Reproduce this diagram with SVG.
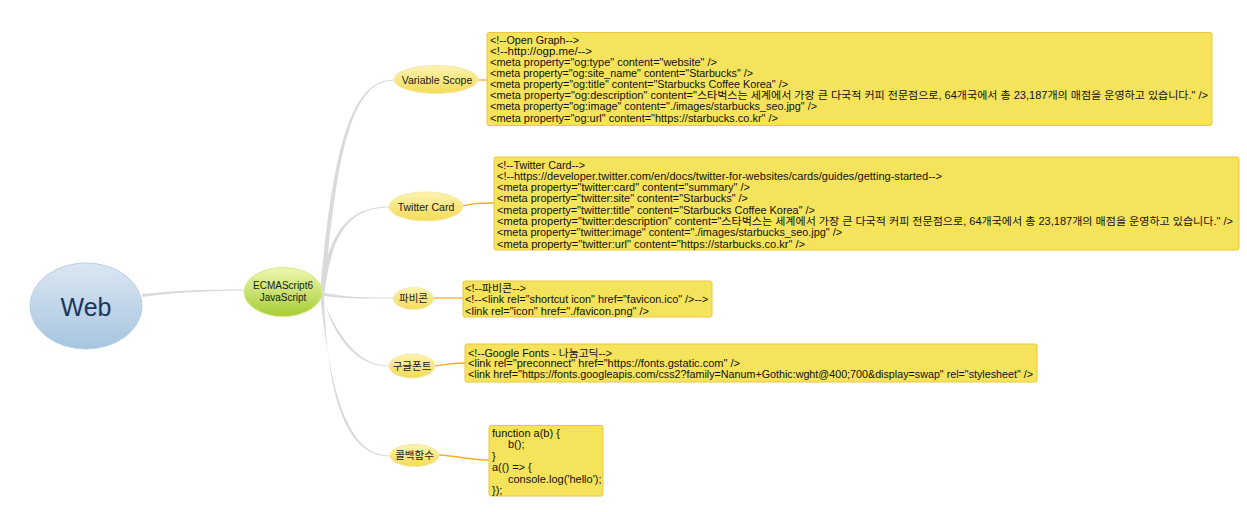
<svg xmlns="http://www.w3.org/2000/svg" width="1247" height="512" viewBox="0 0 1247 512">
<defs>
<linearGradient id="gWeb" x1="0" y1="0" x2="0" y2="1"><stop offset="0" stop-color="#dbe7f2"/><stop offset="1" stop-color="#a7c4df"/></linearGradient>
<linearGradient id="gEcma" x1="0" y1="0" x2="0" y2="1"><stop offset="0" stop-color="#eef6b0"/><stop offset="1" stop-color="#a6cd35"/></linearGradient>
<linearGradient id="gTopic" x1="0" y1="0" x2="0" y2="1"><stop offset="0" stop-color="#fcf3b0"/><stop offset="1" stop-color="#f3db57"/></linearGradient>
</defs>
<style>
.topic{fill:url(#gTopic);stroke:#f6e9a8;stroke-width:1}
.tl{font-family:"Liberation Sans","Noto Sans CJK KR",sans-serif;font-size:10.5px;fill:#1a1a1a;text-anchor:middle}
.box{fill:#f5e35b;stroke:#eac840;stroke-width:1}
.bt{font-family:"Liberation Sans","Noto Sans CJK KR",sans-serif;font-size:10px;fill:#111}
.code{font-family:"Liberation Sans","Noto Sans CJK KR",sans-serif;font-size:11px;fill:#111}
.gc{fill:#dadada;stroke:none}
.oc{fill:none;stroke:#f0b21e;stroke-width:1.3}
</style>
<g id="connectors">
<path class="gc" d="M142,294 C180,290 210,289.5 244,289.5 L244,290.8 C210,290.8 180,292 142,297 Z"/>
<path class="gc" d="M320,292 C333,150 350,79.5 394,79.5 L394,80.5 C352,80.5 337,150 324.5,292 Z"/>
<path class="gc" d="M320,292 C327,245 340,206.5 389,206.5 L389,207.5 C342,207.5 331,245 324.5,293 Z"/>
<path class="gc" d="M320,292 C345,297 360,297.5 394,297.5 L394,298.5 C360,298.5 345,299 320,295.5 Z"/>
<path class="gc" d="M320,293 C335,330 355,365.5 389,365.5 L389,366.5 C353,366.5 331,331 322.5,295.5 Z"/>
<path class="gc" d="M320,294 C331,400 350,455.5 390,455.5 L390,456.5 C347,456.5 327,400 324,296 Z"/>
<path class="oc" d="M478,80 L487,80"/>
<path class="oc" d="M462,206 C475,203 480,203 494,203"/>
<path class="oc" d="M433,298 L463,298"/>
<path class="oc" d="M435,366 C448,364 452,363 465,363"/>
<path class="oc" d="M438,455 C460,456 470,460 489,460" style="stroke-width:1.6"/>
</g>
<g id="web">
<ellipse cx="86" cy="306" rx="56" ry="43" fill="url(#gWeb)" stroke="#b9d0e6" stroke-width="1"/>
<text x="86" y="316" style="font-family:'Liberation Sans','Noto Sans',sans-serif;font-size:25px;fill:#17375e;text-anchor:middle">Web</text>
</g>
<g id="ecma">
<ellipse cx="283" cy="292" rx="39" ry="24.5" fill="url(#gEcma)" stroke="#d8ea8a" stroke-width="1"/>
<text class="tl" x="283" y="288.5" style="font-size:10px">ECMAScript6</text>
<text class="tl" x="283" y="300.5" style="font-size:10px">JavaScript</text>
</g>
<g id="variable-scope">
<ellipse class="topic" cx="436" cy="79.5" rx="42" ry="14"/>
<text class="tl" x="437" y="83.5">Variable Scope</text>
</g>
<g id="twitter-card">
<ellipse class="topic" cx="426" cy="206.5" rx="37" ry="14.5"/>
<text class="tl" x="426" y="210.5">Twitter Card</text>
</g>
<g id="favicon">
<ellipse class="topic" cx="413.5" cy="298.5" rx="20" ry="11"/>
<text class="tl" x="413.5" y="302">파비콘</text>
</g>
<g id="google-fonts">
<ellipse class="topic" cx="412" cy="366" rx="23" ry="12"/>
<text class="tl" x="412" y="369.5">구글폰트</text>
</g>
<g id="callback">
<ellipse class="topic" cx="414.5" cy="455.5" rx="24.5" ry="11"/>
<text class="tl" x="414.5" y="459">콜백함수</text>
</g>
<g id="box-og">
<rect class="box" x="487" y="32.5" width="725" height="93" rx="2"/>
<text class="bt" x="490" y="43.5" textLength="89" lengthAdjust="spacingAndGlyphs">&lt;!--Open Graph--&gt;</text>
<text class="bt" x="490" y="54.6" textLength="102" lengthAdjust="spacingAndGlyphs">&lt;!--http://ogp.me/--&gt;</text>
<text class="bt" x="490" y="65.8" textLength="227" lengthAdjust="spacingAndGlyphs">&lt;meta property="og:type" content="website" /&gt;</text>
<text class="bt" x="490" y="76.9" textLength="263" lengthAdjust="spacingAndGlyphs">&lt;meta property="og:site_name" content="Starbucks" /&gt;</text>
<text class="bt" x="490" y="88.1" textLength="298" lengthAdjust="spacingAndGlyphs">&lt;meta property="og:title" content="Starbucks Coffee Korea" /&gt;</text>
<text class="bt" x="490" y="99.2" textLength="718" lengthAdjust="spacingAndGlyphs">&lt;meta property="og:description" content="스타벅스는 세계에서 가장 큰 다국적 커피 전문점으로, 64개국에서 총 23,187개의 매점을 운영하고 있습니다." /&gt;</text>
<text class="bt" x="490" y="110.3" textLength="327" lengthAdjust="spacingAndGlyphs">&lt;meta property="og:image" content="./images/starbucks_seo.jpg" /&gt;</text>
<text class="bt" x="490" y="121.5" textLength="288" lengthAdjust="spacingAndGlyphs">&lt;meta property="og:url" content="https://starbucks.co.kr" /&gt;</text>
</g>
<g id="box-twitter">
<rect class="box" x="494" y="157" width="745" height="93" rx="2"/>
<text class="bt" x="497" y="168.5" textLength="88" lengthAdjust="spacingAndGlyphs">&lt;!--Twitter Card--&gt;</text>
<text class="bt" x="497" y="179.8" textLength="445" lengthAdjust="spacingAndGlyphs">&lt;!--https://developer.twitter.com/en/docs/twitter-for-websites/cards/guides/getting-started--&gt;</text>
<text class="bt" x="497" y="191.1" textLength="253" lengthAdjust="spacingAndGlyphs">&lt;meta property="twitter:card" content="summary" /&gt;</text>
<text class="bt" x="497" y="202.4" textLength="251" lengthAdjust="spacingAndGlyphs">&lt;meta property="twitter:site" content="Starbucks" /&gt;</text>
<text class="bt" x="497" y="213.7" textLength="318" lengthAdjust="spacingAndGlyphs">&lt;meta property="twitter:title" content="Starbucks Coffee Korea" /&gt;</text>
<text class="bt" x="497" y="225" textLength="736" lengthAdjust="spacingAndGlyphs">&lt;meta property="twitter:description" content="스타벅스는 세계에서 가장 큰 다국적 커피 전문점으로, 64개국에서 총 23,187개의 매점을 운영하고 있습니다." /&gt;</text>
<text class="bt" x="497" y="236.3" textLength="345" lengthAdjust="spacingAndGlyphs">&lt;meta property="twitter:image" content="./images/starbucks_seo.jpg" /&gt;</text>
<text class="bt" x="497" y="247.6" textLength="308" lengthAdjust="spacingAndGlyphs">&lt;meta property="twitter:url" content="https://starbucks.co.kr" /&gt;</text>
</g>
<g id="box-favicon">
<rect class="box" x="463" y="281" width="249" height="36" rx="2"/>
<text class="bt" x="465" y="291.5" textLength="61" lengthAdjust="spacingAndGlyphs">&lt;!--파비콘--&gt;</text>
<text class="bt" x="465" y="303" textLength="243" lengthAdjust="spacingAndGlyphs">&lt;!--&lt;link rel="shortcut icon" href="favicon.ico" /&gt;--&gt;</text>
<text class="bt" x="465" y="314.5" textLength="184" lengthAdjust="spacingAndGlyphs">&lt;link rel="icon" href="./favicon.png" /&gt;</text>
</g>
<g id="box-fonts">
<rect class="box" x="465" y="344" width="572" height="38" rx="2"/>
<text class="bt" x="468" y="356.5" textLength="144" lengthAdjust="spacingAndGlyphs">&lt;!--Google Fonts - 나눔고딕--&gt;</text>
<text class="bt" x="468" y="367.3" textLength="272" lengthAdjust="spacingAndGlyphs">&lt;link rel="preconnect" href="https://fonts.gstatic.com" /&gt;</text>
<text class="bt" x="468" y="378" textLength="565" lengthAdjust="spacingAndGlyphs">&lt;link href="https://fonts.googleapis.com/css2?family=Nanum+Gothic:wght@400;700&amp;display=swap" rel="stylesheet" /&gt;</text>
</g>
<g id="box-callback">
<rect class="box" x="489" y="425.5" width="114" height="70.5" rx="2"/>
<text class="code" x="492" y="437">function a(b) {</text>
<text class="code" x="508" y="448.4">b();</text>
<text class="code" x="492" y="459.8">}</text>
<text class="code" x="492" y="471.2">a(() =&gt; {</text>
<text class="code" x="508" y="482.6">console.log('hello');</text>
<text class="code" x="492" y="494">});</text>
</g>
</svg>
